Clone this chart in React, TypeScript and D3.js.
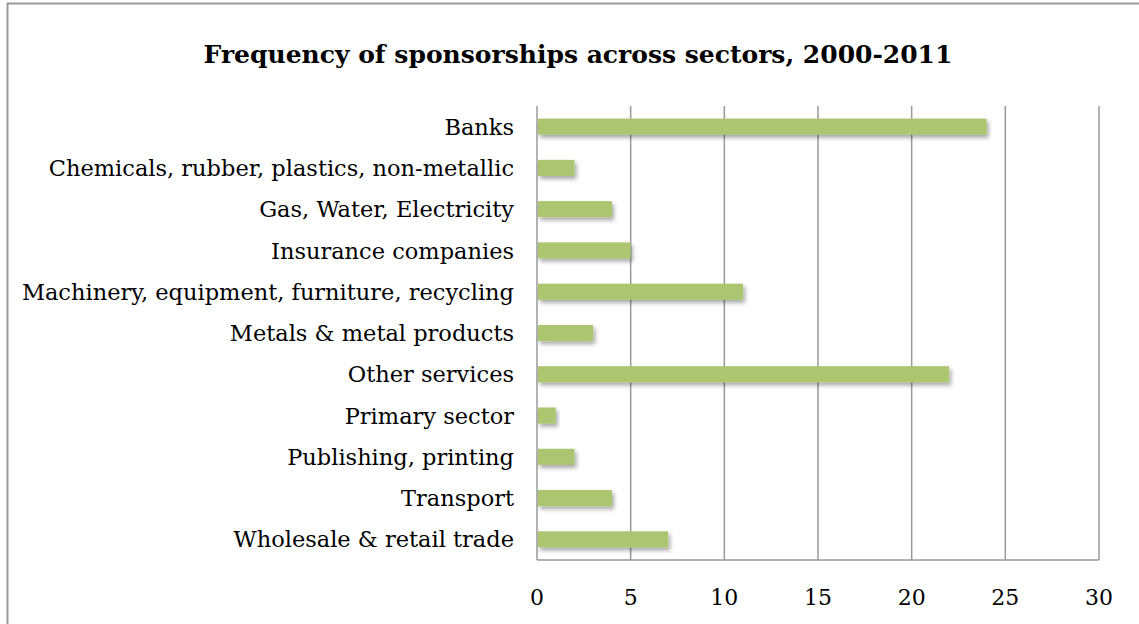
import { useEffect, useRef } from "react";
import * as d3 from "d3";

const categories = [
  "Banks",
  "Chemicals, rubber, plastics, non-metallic",
  "Gas, Water, Electricity",
  "Insurance companies",
  "Machinery, equipment, furniture, recycling",
  "Metals & metal products",
  "Other services",
  "Primary sector",
  "Publishing, printing",
  "Transport",
  "Wholesale & retail trade",
];
const counts = [24, 2, 4, 5, 11, 3, 22, 1, 2, 4, 7];
const xTicks = [0, 5, 10, 15, 20, 25, 30];
const title = "Frequency of sponsorships across sectors, 2000-2011";

const App = () => {
  const svgRef = useRef<SVGSVGElement>(null);

  useEffect(() => {
    if (!svgRef.current) return;
    const svg = d3.select(svgRef.current);
    svg.selectAll("*").remove();

    const W = 1139;
    const H = 624;
    const left = 537;
    const right = 1099;
    const top = 106;
    const bottom = 560;
    const font = "'DejaVu Serif', serif";

    // drop shadow for bars
    const defs = svg.append("defs");
    defs
      .append("filter")
      .attr("id", "shadow")
      .attr("x", "-10%")
      .attr("y", "-30%")
      .attr("width", "130%")
      .attr("height", "200%")
      .append("feDropShadow")
      .attr("dx", 2)
      .attr("dy", 3)
      .attr("stdDeviation", 2)
      .attr("flood-color", "#000")
      .attr("flood-opacity", 0.35);

    svg.append("rect").attr("width", W).attr("height", H).attr("fill", "#fff");

    // outer chart border
    svg
      .append("rect")
      .attr("x", 7.5)
      .attr("y", 3.5)
      .attr("width", W + 10)
      .attr("height", H + 10)
      .attr("fill", "none")
      .attr("stroke", "#9a9a9a")
      .attr("stroke-width", 2);

    svg
      .append("text")
      .attr("x", 578)
      .attr("y", 63)
      .attr("text-anchor", "middle")
      .style("font-family", font)
      .style("font-weight", "bold")
      .style("font-size", "25px")
      .style("fill", "#000")
      .text(title);

    const x = d3.scaleLinear().domain([0, 30]).range([left, right]);
    const y = d3
      .scaleBand()
      .domain(categories)
      .range([top, bottom])
      .paddingInner(0.61)
      .paddingOuter(0.305);

    // vertical grid lines
    svg
      .append("g")
      .selectAll("line")
      .data(xTicks)
      .join("line")
      .attr("x1", (d) => x(d))
      .attr("x2", (d) => x(d))
      .attr("y1", top)
      .attr("y2", bottom)
      .attr("stroke", "#9a9a9a")
      .attr("stroke-width", 1.5);

    // bottom axis line
    svg
      .append("line")
      .attr("x1", left)
      .attr("x2", right)
      .attr("y1", bottom)
      .attr("y2", bottom)
      .attr("stroke", "#9a9a9a")
      .attr("stroke-width", 1.5);

    // bars
    svg
      .append("g")
      .selectAll("rect")
      .data(categories)
      .join("rect")
      .attr("x", x(0) + 1)
      .attr("y", (d) => y(d)!)
      .attr("width", (d, i) => x(counts[i]) - x(0) - 1)
      .attr("height", y.bandwidth())
      .attr("fill", "#abc56f")
      .attr("filter", "url(#shadow)");

    // category labels
    svg
      .append("g")
      .selectAll("text")
      .data(categories)
      .join("text")
      .attr("x", 514)
      .attr("y", (d) => y(d)! + y.bandwidth() / 2)
      .attr("dy", "0.36em")
      .attr("text-anchor", "end")
      .style("font-family", font)
      .style("font-size", "22.5px")
      .style("fill", "#000")
      .text((d) => d);

    // x tick labels
    svg
      .append("g")
      .selectAll("text")
      .data(xTicks)
      .join("text")
      .attr("x", (d) => x(d))
      .attr("y", 605)
      .attr("text-anchor", "middle")
      .style("font-family", font)
      .style("font-size", "22px")
      .style("fill", "#000")
      .text((d) => d);
  }, []);

  return (
    <svg
      ref={svgRef}
      width={1139}
      height={624}
      style={{ position: "absolute", left: 0, top: 0, display: "block" }}
    />
  );
};

export default App;
